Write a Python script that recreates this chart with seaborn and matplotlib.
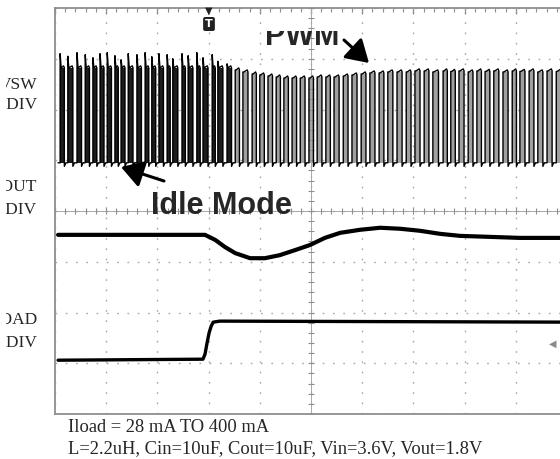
import numpy as np
import pandas as pd
import matplotlib
matplotlib.use("Agg")
import matplotlib.pyplot as plt
from matplotlib.ticker import MultipleLocator
from matplotlib.transforms import Bbox, TransformedBbox
import seaborn as sns

# -------------------------
# Data (scope divisions: x 0..10, y 0..8)
# -------------------------
# switch node: rising edges in idle (burst) region and in PWM region
IDLE_EDGES = [0.10, 0.25, 0.43, 0.59, 0.74, 0.88, 1.02, 1.17, 1.29, 1.43, 1.60, 1.76,
              1.89, 2.03, 2.19, 2.30, 2.48, 2.60, 2.77, 2.89, 3.07, 3.18, 3.36]
IDLE_SPIKE = [7.10, 7.05, 7.12, 7.08, 7.02, 7.10, 7.12, 7.06, 6.98, 7.10, 7.08, 7.12,
              7.04, 7.10, 7.08, 7.00, 7.10, 7.06, 7.12, 7.02, 7.08, 6.95, 6.90]
IDLE_TOP = 6.82
PWM_EDGES = [3.52, 3.67, 3.85, 4.00, 4.16, 4.32, 4.47, 4.63, 4.79, 4.96, 5.12, 5.29, 5.45,
             5.63, 5.80, 5.98, 6.15, 6.33, 6.50, 6.68, 6.86, 7.03, 7.21, 7.38, 7.58, 7.73,
             7.89, 8.07, 8.24, 8.40, 8.57, 8.75, 8.93, 9.08, 9.26, 9.43, 9.61, 9.79, 9.96]
PWM_TOP = [6.78, 6.74, 6.70, 6.68, 6.66, 6.64, 6.62, 6.62, 6.62, 6.62, 6.64, 6.64, 6.64,
           6.66, 6.68, 6.70, 6.72, 6.72, 6.74, 6.74, 6.74, 6.76, 6.76, 6.74, 6.76, 6.75,
           6.76, 6.74, 6.76, 6.75, 6.76, 6.74, 6.76, 6.75, 6.76, 6.74, 6.76, 6.75, 6.76]
VSW_LOW = 4.95

# output voltage
VOUT_T = [0.06, 1.00, 2.00, 2.93, 3.13, 3.32, 3.52, 3.81, 4.10, 4.39, 4.69, 4.98, 5.27,
          5.57, 5.96, 6.35, 6.74, 7.13, 7.52, 7.91, 8.50, 9.08, 10.0]
VOUT_V = [3.53, 3.53, 3.53, 3.53, 3.43, 3.29, 3.17, 3.07, 3.07, 3.13, 3.23, 3.33, 3.47,
          3.57, 3.63, 3.67, 3.65, 3.61, 3.55, 3.51, 3.49, 3.47, 3.47]

# load current step
ILOAD_T = [0.06, 2.89, 2.93, 2.97, 3.01, 3.05, 3.09, 3.22, 10.0]
ILOAD_V = [1.06, 1.08, 1.18, 1.40, 1.60, 1.73, 1.81, 1.83, 1.81]

LEFT_LABELS = [("VSW", 85), ("2V/DIV", 105), ("VOUT", 187), ("50mV/DIV", 210),
               ("ILOAD", 320), ("200mA/DIV", 343)]
NOTE_1 = "Iload = 28 mA TO 400 mA"
NOTE_2 = "L=2.2uH, Cin=10uF, Cout=10uF, Vin=3.6V, Vout=1.8V"

GRID = "#8f8f8f"
GRID_LIGHT = "#a8a8a8"

sns.set_style("white")
plt.rcParams["font.family"] = ["Liberation Serif", "DejaVu Serif"]

W, H = 560, 459
fig = plt.figure(figsize=(W / 100, H / 100), dpi=100)
ax = fig.add_axes([55 / W, 45 / H, 512 / W, 406 / H])
ax.set_xlim(0, 10)
ax.set_ylim(0, 8)

# -------------------------
# Graticule
# -------------------------
for s in ax.spines.values():
    s.set_color(GRID)
    s.set_linewidth(1.3)
ax.xaxis.set_major_locator(MultipleLocator(1))
ax.yaxis.set_major_locator(MultipleLocator(1))
ax.xaxis.set_minor_locator(MultipleLocator(0.2))
ax.yaxis.set_minor_locator(MultipleLocator(0.2))
ax.tick_params(which="both", direction="in", top=True, right=True,
               labelbottom=False, labelleft=False, color=GRID)
ax.tick_params(which="major", length=4, width=0.9)
ax.tick_params(which="minor", length=3, width=0.8)
ax.grid(True, which="major", color=GRID_LIGHT, linestyle=(0, (1.2, 6.2)), lw=1.0)

ax.axhline(4, color=GRID_LIGHT, lw=0.7)
ax.axvline(5, color=GRID_LIGHT, lw=0.7)
cx = np.arange(0, 10.01, 0.2)
cy = np.arange(0, 8.01, 0.2)
ax.plot(cx, np.full_like(cx, 4), ls="none", marker="|", ms=5, mew=0.8, color=GRID)
ax.plot(np.full_like(cy, 5), cy, ls="none", marker="_", ms=5, mew=0.8, color=GRID)

# -------------------------
# Switch node trace
# -------------------------
edges = IDLE_EDGES + PWM_EDGES
tops = [IDLE_TOP] * len(IDLE_EDGES) + PWM_TOP
peaks = IDLE_SPIKE + PWM_TOP
nxt = edges[1:] + [10.2]
pts = [(0.06, VSW_LOW)]
for i, (r, n, top, pk) in enumerate(zip(edges, nxt, tops, peaks)):
    f = r + 0.55 * (n - r)
    idle = i < len(IDLE_EDGES)
    ax.fill_between([r, f], VSW_LOW, top, color="#1c1c1c" if idle else "#a0a0a0", lw=0)
    pts += [(r, VSW_LOW), (r, pk), (r + 0.02, top), (f - 0.015, top + 0.04), (f, top),
            (f, VSW_LOW - 0.07), (f + 0.03, VSW_LOW), (n, VSW_LOW)]
vsw = pd.DataFrame(pts, columns=["t", "v"])
sns.lineplot(data=vsw, x="t", y="v", sort=False, estimator=None, color="black", lw=1.0, ax=ax)

# -------------------------
# Vout and Iload
# -------------------------
sns.lineplot(x=VOUT_T, y=VOUT_V, sort=False, estimator=None, color="black", lw=3.0, ax=ax)
sns.lineplot(x=ILOAD_T, y=ILOAD_V, sort=False, estimator=None, color="black", lw=2.4, ax=ax)
ax.set_xlabel("")
ax.set_ylabel("")


def fp(x, y):
    return x / W, 1 - y / H


# channel labels, cut off at the left edge like the scan
clip = TransformedBbox(Bbox([[6 / W, 0], [1, 1]]), fig.transFigure)
for txt, y in LEFT_LABELS:
    t = fig.text(*fp(37.5, y), txt, ha="right", va="center", fontsize=12.5)
    t.set_clip_box(clip)
    t.set_clip_on(True)

# annotations
t = fig.text(*fp(265, 45), "PWM", ha="left", va="baseline", fontsize=22,
             family="Liberation Sans", weight="bold")
t.set_clip_box(TransformedBbox(Bbox([[0, 0], [1, 1 - 31 / H]]), fig.transFigure))
t.set_clip_on(True)
fig.text(*fp(151, 214), "Idle Mode", ha="left", va="baseline", fontsize=22,
         family="Liberation Sans", weight="bold")

arrow = dict(arrowstyle="-|>,head_length=0.9,head_width=0.55", lw=2.2, color="black",
             mutation_scale=15, shrinkA=0, shrinkB=0)
ax.annotate("", xy=(369, H - 63), xycoords="figure pixels",
            xytext=(344, H - 40), textcoords="figure pixels", arrowprops=arrow)
ax.annotate("", xy=(121, H - 167), xycoords="figure pixels",
            xytext=(164, H - 181), textcoords="figure pixels", arrowprops=arrow)

# trigger and ground markers
fig.text(*fp(209, 11), "\u25bc", ha="center", va="center", fontsize=7,
         family="DejaVu Sans", color="#222222")
fig.text(*fp(209, 24), "T", ha="center", va="center", fontsize=8, weight="bold",
         family="DejaVu Sans", color="white",
         bbox=dict(boxstyle="round,pad=0.18", fc="#222222", ec="none"))
fig.text(*fp(553, 344), "\u25c0", ha="center", va="center", fontsize=7,
         family="DejaVu Sans", color="#8a8a8a")

# test conditions
fig.text(*fp(68, 428), NOTE_1, ha="left", va="center", fontsize=13.3)
fig.text(*fp(68, 449), NOTE_2, ha="left", va="center", fontsize=13.3)

fig.savefig("out.png", dpi=100, facecolor="white")
